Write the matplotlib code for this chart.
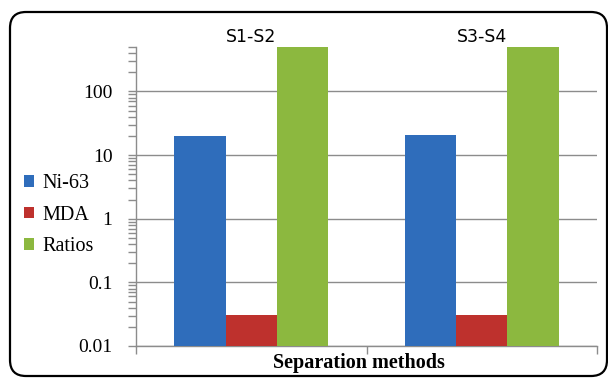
import matplotlib.pyplot as plt
import numpy as np
from matplotlib.patches import FancyBboxPatch, Patch
from matplotlib.ticker import LogLocator, NullFormatter, FixedLocator
from matplotlib.transforms import IdentityTransform

# ----------------------------------------------------------------------
# Data
# ----------------------------------------------------------------------
categories = ["S1-S2", "S3-S4"]
series_names = ["Ni-63", "MDA", "Ratios"]
ni63 = [20, 21]
mda = [0.03, 0.03]
ratios = [500, 500]
ytick_values = [0.01, 0.1, 1, 10, 100]
ytick_labels = ["0.01", "0.1", "1", "10", "100"]

colors = ["#2F6DBB", "#BE312D", "#8CB83F"]
serif = "Liberation Serif"

# ----------------------------------------------------------------------
# Plot
# ----------------------------------------------------------------------
fig = plt.figure(figsize=(6.08, 3.78), dpi=100)
ax = fig.add_axes([136 / 608, 1 - 346 / 378, (597 - 136) / 608, (346 - 47) / 378])

x = np.arange(len(categories))
w = 0.222
for i, vals in enumerate([ni63, mda, ratios]):
    ax.bar(x + (i - 1) * w, vals, width=w, color=colors[i], bottom=0.001,
           zorder=3)

ax.set_yscale("log")
ax.set_ylim(0.01, 500)
ax.set_xlim(-0.5, 1.5)

ax.yaxis.set_major_locator(FixedLocator(ytick_values))
ax.set_yticks(ytick_values, ytick_labels)
ax.yaxis.set_minor_locator(LogLocator(base=10, subs=np.arange(2, 10)))
ax.yaxis.set_minor_formatter(NullFormatter())
ax.tick_params(axis="y", which="both", direction="out", length=6,
               color="#8C8C8C", width=1, labelsize=14, pad=11)
for lab in ax.get_yticklabels():
    lab.set_fontfamily(serif)

# category boundaries on the bottom axis, names at the top
ax.set_xticks([-0.5, 0.5, 1.5], ["", "", ""])
ax.tick_params(axis="x", direction="out", length=6, color="#8C8C8C", width=1)
top = ax.secondary_xaxis("top")
top.set_xticks(x, categories)
top.tick_params(length=0, labelsize=12.5, pad=0.5)
top.spines["top"].set_visible(False)

ax.grid(True, axis="y", which="major", color="#8C8C8C", linewidth=1, zorder=1)
for side in ["top", "right"]:
    ax.spines[side].set_visible(False)
for side in ["left", "bottom"]:
    ax.spines[side].set_color("#8C8C8C")
    ax.spines[side].set_linewidth(1)

fig.text(359 / 608, 1 - 363 / 378, "Separation methods", fontfamily=serif,
         fontweight="bold", fontsize=14.5, ha="center", va="center")

# legend on the left
handles = [Patch(facecolor=c) for c in colors]
fig.legend(handles, series_names, loc="center left",
           bbox_to_anchor=(24 / 608, 1 - 215 / 378), frameon=False,
           prop={"family": serif, "size": 14.5},
           handlelength=0.5, handleheight=0.5, handletextpad=0.4,
           labelspacing=0.62, borderaxespad=0, borderpad=0)

# rounded chart border
frame = FancyBboxPatch((10, 2), 597, 364,
                       boxstyle="round,pad=0,rounding_size=16",
                       facecolor="none", edgecolor="black", linewidth=1.6,
                       transform=IdentityTransform())
fig.add_artist(frame)

fig.savefig("out.png", dpi=100)
